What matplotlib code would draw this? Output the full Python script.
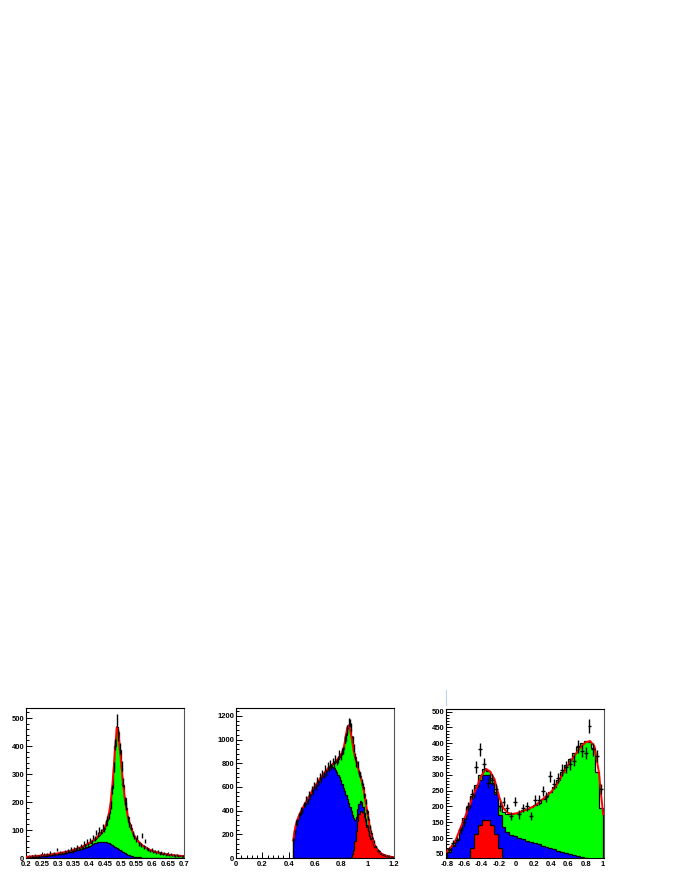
import matplotlib
matplotlib.use("Agg")
import matplotlib.pyplot as plt
import numpy as np
from matplotlib.ticker import MultipleLocator

# === D A T A ===

# panel 1 : 100 bins of 0.005 from 0.2 to 0.7
p1_edges = np.linspace(0.2, 0.7, 101)
p1_total = [4, 5, 5, 6, 6, 7, 7, 8, 8, 9,
            10, 10, 11, 12, 12, 13, 14, 15, 15, 16,
            17, 18, 19, 20, 21, 22, 24, 25, 27, 28,
            30, 32, 34, 36, 38, 40, 43, 46, 49, 52,
            55, 59, 63, 67, 72, 77, 83, 90, 97, 105,
            118, 135, 160, 195, 250, 320, 400, 468, 450, 385,
            320, 262, 215, 178, 148, 124, 106, 92, 80, 71,
            63, 57, 51, 46, 42, 38, 35, 32, 29, 27,
            25, 23, 21, 20, 18, 17, 16, 15, 14, 13,
            12, 11, 11, 10, 9, 9, 8, 8, 7, 7]
p1_bkg = [2, 2, 3, 3, 3, 4, 4, 5, 5, 6,
          6, 7, 7, 8, 9, 9, 10, 11, 12, 13,
          13, 14, 15, 16, 17, 18, 20, 21, 22, 24,
          25, 27, 28, 30, 32, 33, 35, 37, 39, 41,
          44, 47, 50, 52, 54, 56, 57, 58, 58, 58,
          57, 55, 53, 50, 47, 44, 40, 36, 32, 28,
          24, 21, 18, 15, 12, 10, 8, 6, 5, 4,
          3, 2, 2, 1, 1, 1, 1, 0, 0, 0,
          0, 0, 0, 0, 0, 0, 0, 0, 0, 0,
          0, 0, 0, 0, 0, 0, 0, 0, 0, 0]
p1_data = [3, 6, 4, 8, 5, 10, 6, 9, 7, 12,
           9, 13, 8, 14, 10, 20, 12, 16, 11, 30,
           15, 22, 18, 14, 25, 20, 28, 22, 32, 24,
           35, 30, 40, 33, 45, 38, 55, 42, 60, 48,
           65, 58, 75, 70, 90, 85, 100, 95, 110, 102,
           125, 140, 150, 190, 245, 325, 405, 492, 440, 390,
           330, 270, 205, 185, 140, 120, 110, 88, 75, 65,
           75, 50, 48, 80, 40, 60, 35, 30, 25, 30,
           22, 25, 18, 24, 16, 19, 14, 17, 12, 15,
           10, 13, 9, 11, 8, 10, 7, 9, 6, 8]

# panel 2 : 77 bins of 0.01 from 0.43 to 1.2
p2_edges = np.linspace(0.43, 1.2, 78)
p2_total = [150, 230, 280, 320, 350, 375, 400,
            420, 440, 460, 480, 500, 520, 540, 560, 580, 600,
            615, 630, 650, 665, 680, 695, 710, 725, 740, 752,
            765, 775, 785, 795, 805, 815, 825, 840, 855, 870,
            890, 920, 970, 1040, 1100, 1120, 1090, 1030, 970, 900,
            850, 810, 770, 730, 690, 650, 600, 540, 470, 400,
            330, 270, 215, 170, 135, 105, 85, 68, 55, 45,
            37, 31, 26, 22, 18, 15, 13, 11, 9, 8]
p2_blue = [150, 230, 280, 320, 350, 375, 400,
           420, 440, 460, 480, 500, 520, 540, 560, 580, 600,
           615, 630, 650, 665, 680, 695, 710, 725, 740, 752,
           765, 772, 775, 770, 760, 745, 725, 705, 680, 655,
           625, 595, 565, 535, 500, 465, 430, 395, 360, 335,
           325, 350, 410, 460, 480, 470, 430, 380, 330, 280,
           235, 198, 166, 140, 115, 95, 78, 64, 52, 43,
           36, 30, 24, 20, 17, 14, 12, 10, 8, 7]
p2_red = [0, 0, 0, 0, 0, 0, 0,
          0, 0, 0, 0, 0, 0, 0, 0, 0, 0,
          0, 0, 0, 0, 0, 0, 0, 0, 0, 0,
          0, 0, 0, 0, 0, 0, 0, 0, 0, 0,
          0, 0, 0, 0, 0, 0, 0, 10, 30, 70,
          140, 230, 310, 370, 395, 400, 385, 350, 310, 265,
          225, 190, 160, 135, 112, 92, 76, 62, 51, 42,
          35, 29, 24, 20, 17, 14, 12, 10, 8, 7]
p2_data = [160, 220, 300, 310, 365, 370, 410,
           400, 455, 450, 500, 480, 540, 520, 580, 560, 620,
           600, 660, 630, 690, 660, 720, 700, 760, 720, 780,
           750, 800, 770, 820, 790, 840, 810, 830, 880, 860,
           900, 910, 1000, 1020, 1090, 1150, 1140, 1110, 1000, 930,
           860, 800, 790, 720, 700, 640, 610, 530, 480, 390,
           340, 260, 220, 170, 140, 100, 90, 65, 60, 40,
           40, 30, 28, 20, 20, 14, 12, 10, 10, 6]

# panel 3 : 40 bins of 0.045 from -0.8 to 1.0
p3_edges = np.linspace(-0.8, 1.0, 41)
p3_total = [62, 78, 97, 130, 162, 197, 234, 268, 300, 318,
            312, 290, 245, 200, 182, 177, 176, 178, 183, 188,
            193, 198, 204, 212, 222, 234, 246, 262, 285, 310,
            330, 350, 370, 388, 400, 406, 405, 385, 310, 195]
p3_blue = [57, 75, 95, 125, 160, 195, 230, 260, 285, 300,
           300, 275, 240, 173, 135, 118, 110, 105, 100, 96,
           92, 88, 84, 80, 76, 72, 68, 64, 60, 56,
           52, 49, 46, 43, 40, 37, 34, 31, 28, 25]
p3_red = [0, 0, 0, 0, 0, 30, 68, 113, 142, 157,
          157, 142, 113, 68, 30, 0, 0, 0, 0, 0,
          0, 0, 0, 0, 0, 0, 0, 0, 0, 0,
          0, 0, 0, 0, 0, 0, 0, 0, 0, 0]
p3_data = [65, 85, 95, 125, 150, 200, 240, 325, 380, 335,
           275, 285, 255, 200, 215, 195, 170, 215, 175, 195,
           200, 170, 220, 220, 250, 230, 295, 270, 290, 315,
           325, 335, 345, 390, 375, 370, 455, 380, 360, 255]
p3_fit_x = np.linspace(-0.8, 1.0, 37)
p3_fit = [57, 72, 92, 128, 160, 195, 232, 265, 298, 319,
          310, 285, 232, 195, 180, 176, 178, 183, 188, 194,
          200, 210, 222, 234, 246, 262, 285, 310, 332, 352,
          372, 390, 403, 407, 390, 310, 175]

GREEN = '#00ff00'
BLUE = '#0000ff'
RED = '#ff0000'

plt.rcParams['font.family'] = ['Liberation Sans', 'DejaVu Sans']

fig = plt.figure(figsize=(6.8, 8.8), dpi=100)


def style_axes(ax, xmaj, xmin, ymaj, ymin):
  ax.xaxis.set_major_locator(MultipleLocator(xmaj))
  ax.xaxis.set_minor_locator(MultipleLocator(xmin))
  ax.yaxis.set_major_locator(MultipleLocator(ymaj))
  ax.yaxis.set_minor_locator(MultipleLocator(ymin))
  ax.tick_params(which='both', direction='in', top=False, right=False,
                 labelsize=5.5, width=0.7)
  ax.tick_params(axis='x', pad=2.2)
  ax.tick_params(axis='y', pad=1.2)
  ax.tick_params(which='major', length=4)
  ax.tick_params(which='minor', length=2)
  for lab in ax.get_xticklabels() + ax.get_yticklabels():
    lab.set_fontweight('bold')
  for s in ax.spines.values():
    s.set_linewidth(0.8)
  ax.spines['right'].set_color('#555555')


def draw_hist(ax, edges, vals, color):
  ax.stairs(vals, edges, fill=True, color=color, baseline=0, zorder=2)
  ax.stairs(vals, edges, color='k', lw=0.9, baseline=0, zorder=3)


def draw_data(ax, edges, vals, xerr=True):
  edges = np.asarray(edges)
  c = 0.5 * (edges[1:] + edges[:-1])
  w = 0.5 * (edges[1:] - edges[:-1])
  v = np.asarray(vals, dtype=float)
  ax.errorbar(c, v, yerr=np.sqrt(v), xerr=w if xerr else None, fmt='none',
              ecolor='k', elinewidth=1.0, capsize=0, zorder=5)


# panel 1
ax1 = fig.add_axes([26/680, 22/880, 158/680, 150/880])
draw_hist(ax1, p1_edges, p1_total, GREEN)
draw_hist(ax1, p1_edges, p1_bkg, BLUE)
c1 = 0.5 * (p1_edges[1:] + p1_edges[:-1])
ax1.plot(c1, p1_total, color=RED, lw=1.4, zorder=4)
draw_data(ax1, p1_edges, p1_data, xerr=False)
ax1.set_xlim(0.2, 0.7)
ax1.set_ylim(0, 536)
style_axes(ax1, 0.05, 0.01, 100, 20)
ax1.set_xticks(np.arange(0.2, 0.701, 0.05))
ax1.set_xticklabels(['0.2', '0.25', '0.3', '0.35', '0.4', '0.45', '0.5',
                     '0.55', '0.6', '0.65', '0.7'], fontweight='bold')

# panel 2
ax2 = fig.add_axes([236/680, 22/880, 158/680, 150/880])
draw_hist(ax2, p2_edges, p2_total, GREEN)
draw_hist(ax2, p2_edges, p2_blue, BLUE)
draw_hist(ax2, p2_edges, p2_red, RED)
c2 = 0.5 * (p2_edges[1:] + p2_edges[:-1])
ax2.plot(c2, p2_total, color=RED, lw=1.4, zorder=4)
draw_data(ax2, p2_edges, p2_data, xerr=False)
ax2.set_xlim(0, 1.2)
ax2.set_ylim(0, 1267)
style_axes(ax2, 0.2, 0.04, 200, 40)
ax2.set_xticks(np.arange(0, 1.201, 0.2))
ax2.set_xticklabels(['0', '0.2', '0.4', '0.6', '0.8', '1', '1.2'], fontweight='bold')

# panel 3
ax3 = fig.add_axes([446/680, 22/880, 158/680, 149/880])
draw_hist(ax3, p3_edges, p3_total, GREEN)
draw_hist(ax3, p3_edges, p3_blue, BLUE)
draw_hist(ax3, p3_edges, p3_red, RED)
ax3.plot(p3_fit_x, p3_fit, color=RED, lw=1.4, zorder=4)
draw_data(ax3, p3_edges, p3_data)
ax3.set_xlim(-0.81, 1.01)
ax3.set_ylim(37, 508)
style_axes(ax3, 0.2, 0.04, 50, 10)
ax3.set_xticks(np.arange(-0.8, 1.001, 0.2))
ax3.set_xticklabels(['-0.8', '-0.6', '-0.4', '-0.2', '0', '0.2', '0.4', '0.6',
                     '0.8', '1'], fontweight='bold')

# faint mark above the third pad
fig.add_artist(plt.Line2D([446/680, 446/680], [175/880, 190/880],
                          color='#b8d4f0', lw=0.8))

fig.savefig('out.png', dpi=100)
